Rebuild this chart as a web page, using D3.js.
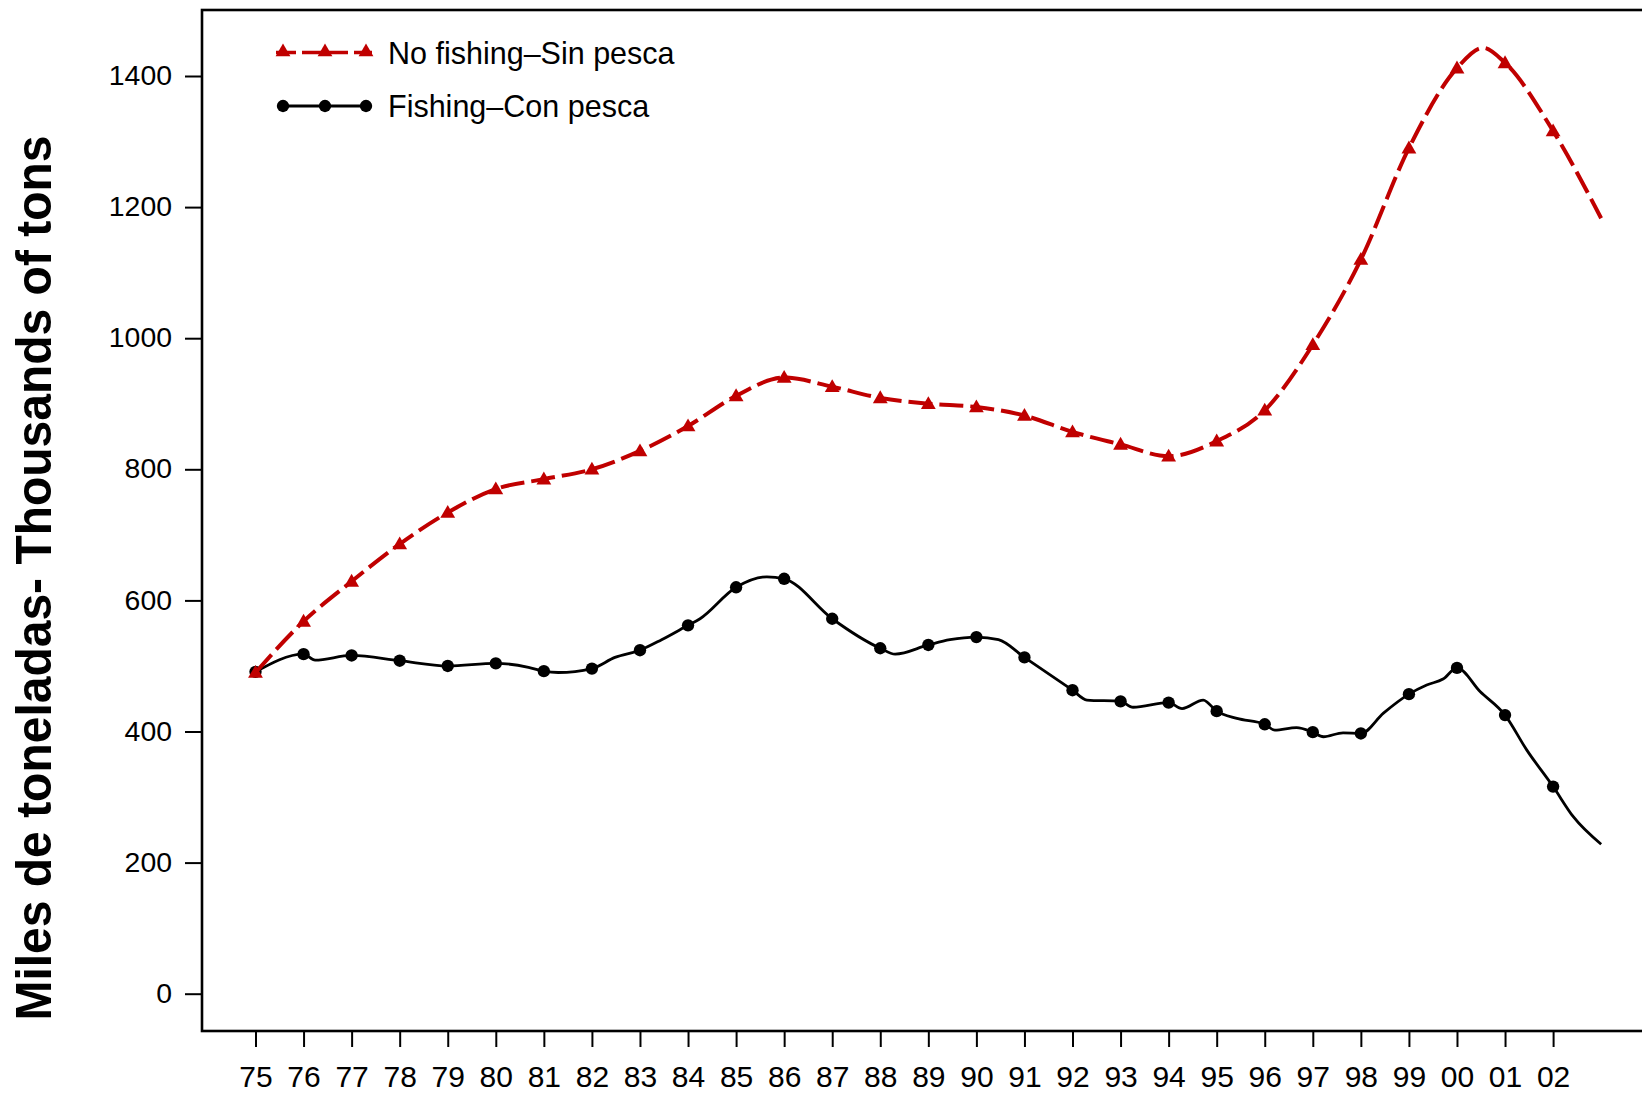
<!DOCTYPE html>
<html>
<head>
<meta charset="utf-8">
<script src="https://cdn.jsdelivr.net/npm/d3@7"></script>
<style>
  html, body { margin: 0; padding: 0; background: #ffffff; }
  svg { display: block; }
  text { font-family: "Liberation Sans", Arial, sans-serif; fill: #000; }
</style>
</head>
<body>
<svg id="chart" width="1642" height="1093"></svg>
<script>
// ---- Data ----
const tickYears = [1975,1976,1977,1978,1979,1980,1981,1982,1983,1984,1985,1986,1987,1988,1989,1990,1991,1992,1993,1994,1995,1996,1997,1998,1999,2000,2001,2002];
const tickLabels = ["75","76","77","78","79","80","81","82","83","84","85","86","87","88","89","90","91","92","93","94","95","96","97","98","99","00","01","02"];
const yTicks = [0,200,400,600,800,1000,1200,1400];

// No fishing - Sin pesca: yearly marker values
const noFishingMarkers = [490,568,629,686,734,770,785,800,828,866,912,940,926,909,900,895,882,857,838,820,843,890,990,1120,1290,1412,1420,1316];
// extra points of the drawn curve (peak and end of line)
const noFishingExtraX = [2000.54, 2003.0];
const noFishingExtraY = [1443, 1183];

// Fishing - Con pesca: yearly marker values
const fishingMarkers = [491,518,516,508,500,504,492,496,524,562,620,633,572,527,532,544,513,463,446,444,431,411,399,397,457,497,425,316];
// intermediate points of the drawn curve
const fishingExtraX = [1976.24,1980.68,1981.30,1982.48,1983.45,1984.25,1985.64,1988.31,1989.45,1990.46,1992.30,1993.26,1994.28,1994.72,1995.42,1996.21,1996.66,1997.22,1997.63,1998.47,1999.37,1999.71,2000.48,2001.45,2002.42,2003.0];
const fishingExtraY = [509,498,490,513,540,572,636,518,540,540,448,437,435,448,420,402,406,392,398,428,471,480,461,372,270,228];

const legendLabels = ["No fishing\u2013Sin pesca", "Fishing\u2013Con pesca"];
const yTitle = "Miles de toneladas- Thousands of tons";

// ---- Layout ----
const W = 1642, H = 1093;
const plotLeft = 202, plotTop = 10, plotBottom = 1031, plotRight = 1670;
const red = "#c00000";

const svg = d3.select("#chart");
svg.append("rect").attr("width", W).attr("height", H).attr("fill", "#ffffff");

const x = d3.scaleLinear().domain([1975, 2002]).range([255.5, 1553.1]);
const y = d3.scaleLinear().domain([0, 1400]).range([993.7, 76]);

function merge(xsA, ysA, xsB, ysB) {
  const pts = xsA.map((v, i) => ({ x: v, y: ysA[i] }))
    .concat(xsB.map((v, i) => ({ x: v, y: ysB[i] })));
  return pts.sort((a, b) => a.x - b.x);
}
const redLine = merge(tickYears, noFishingMarkers, noFishingExtraX, noFishingExtraY);
const blackLine = merge(tickYears, fishingMarkers, fishingExtraX, fishingExtraY);

const line = d3.line().x(d => x(d.x)).y(d => y(d.y)).curve(d3.curveMonotoneX);

// ---- Axes ----
const yAxis = d3.axisLeft(y).tickValues(yTicks).tickSize(17).tickPadding(13).tickFormat(d3.format("d"));
const yg = svg.append("g").attr("transform", `translate(${plotLeft},0)`).call(yAxis);
yg.select(".domain").remove();
yg.selectAll(".tick line").attr("stroke", "#000").attr("stroke-width", 2);
yg.selectAll(".tick text").attr("font-size", 27).attr("font-family", "Liberation Sans, Arial, sans-serif").attr("fill", "#000")
  .attr("textLength", d => String(d).length * 15.8).attr("lengthAdjust", "spacingAndGlyphs");

const xAxis = d3.axisBottom(x).tickValues(tickYears).tickSize(16).tickPadding(19)
  .tickFormat((d, i) => tickLabels[i]);
const xg = svg.append("g").attr("transform", `translate(0,${plotBottom})`).call(xAxis);
xg.select(".domain").remove();
xg.selectAll(".tick line").attr("stroke", "#000").attr("stroke-width", 2);
xg.selectAll(".tick text").attr("font-size", 30).attr("font-family", "Liberation Sans, Arial, sans-serif").attr("fill", "#000");

// frame
svg.append("rect")
  .attr("x", plotLeft).attr("y", plotTop)
  .attr("width", plotRight - plotLeft).attr("height", plotBottom - plotTop)
  .attr("fill", "none").attr("stroke", "#000").attr("stroke-width", 2.6);

// y title
svg.append("text")
  .attr("transform", `translate(51,578) rotate(-90)`)
  .attr("text-anchor", "middle")
  .attr("font-size", 50)
  .attr("font-weight", "bold")
  .attr("textLength", 885)
  .attr("lengthAdjust", "spacingAndGlyphs")
  .text(yTitle);

// ---- Series ----
const tri = d3.symbol().type(d3.symbolTriangle).size(95);
const circ = d3.symbol().type(d3.symbolCircle).size(120);

svg.append("path").datum(blackLine).attr("d", line)
  .attr("fill", "none").attr("stroke", "#000").attr("stroke-width", 2.8).attr("stroke-linejoin", "round");
svg.append("g").selectAll("path").data(tickYears).join("path")
  .attr("d", circ)
  .attr("transform", (d, i) => `translate(${x(d)},${y(fishingMarkers[i])})`)
  .attr("fill", "#000");

svg.append("path").datum(redLine).attr("d", line)
  .attr("fill", "none").attr("stroke", red).attr("stroke-width", 4)
  .attr("stroke-dasharray", "24,7").attr("stroke-linecap", "butt");
svg.append("g").selectAll("path").data(tickYears).join("path")
  .attr("d", tri)
  .attr("transform", (d, i) => `translate(${x(d)},${y(noFishingMarkers[i]) + 1})`)
  .attr("fill", red);

// ---- Legend ----
const lg = svg.append("g");
const lx = [283, 325, 366];
lg.append("line").attr("x1", 276).attr("x2", 372).attr("y1", 52.5).attr("y2", 52.5)
  .attr("stroke", red).attr("stroke-width", 3.5).attr("stroke-dasharray", "20,6");
lg.selectAll(".lt").data(lx).join("path").attr("class", "lt")
  .attr("d", tri).attr("transform", d => `translate(${d},52)`).attr("fill", red);
lg.append("text").attr("x", 388).attr("y", 63.5).attr("font-size", 30.5).text(legendLabels[0]);

lg.append("line").attr("x1", 278).attr("x2", 370).attr("y1", 106).attr("y2", 106)
  .attr("stroke", "#000").attr("stroke-width", 2.8);
lg.selectAll(".lc").data(lx).join("path").attr("class", "lc")
  .attr("d", circ).attr("transform", d => `translate(${d},106)`).attr("fill", "#000");
lg.append("text").attr("x", 388).attr("y", 117).attr("font-size", 30.5).text(legendLabels[1]);
</script>
</body>
</html>
